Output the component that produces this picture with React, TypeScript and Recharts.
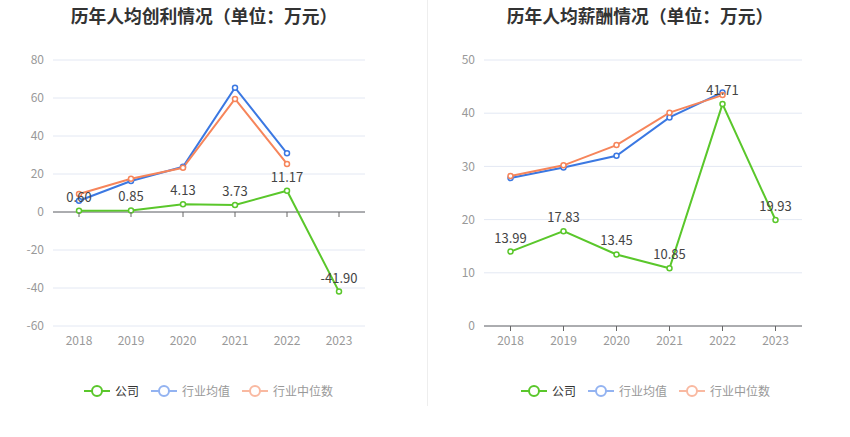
import React from "react";
import { LineChart, Line, XAxis, YAxis, CartesianGrid, ReferenceLine, LabelList } from "recharts";

const years = ["2018", "2019", "2020", "2021", "2022", "2023"];
const profitCompany = [0.6, 0.85, 4.13, 3.73, 11.17, -41.9];
const profitAvg: (number | null)[] = [5.9, 16.3, 23.8, 65.4, 30.9, null];
const profitMedian: (number | null)[] = [9.5, 17.5, 23.3, 59.5, 25.3, null];
const salaryCompany = [13.99, 17.83, 13.45, 10.85, 41.71, 19.93];
const salaryAvg: (number | null)[] = [27.8, 29.8, 32.0, 39.2, 43.9, null];
const salaryMedian: (number | null)[] = [28.2, 30.2, 34.0, 40.1, 43.4, null];
const profitTicks = [-60, -40, -20, 0, 20, 40, 60, 80];
const salaryTicks = [0, 10, 20, 30, 40, 50];
const legendNames = ["公司", "行业均值", "行业中位数"];

const profitData = years.map((y, i) => ({ year: y, company: profitCompany[i], avg: profitAvg[i], median: profitMedian[i] }));
const salaryData = years.map((y, i) => ({ year: y, company: salaryCompany[i], avg: salaryAvg[i], median: salaryMedian[i] }));

const GREEN = "#5ac72b";
const BLUE = "#3b78e2";
const ORANGE = "#f6855b";
const FONT = "'Noto Sans CJK SC', 'Noto Sans', sans-serif";

const PLOT_TOP = 60;
const PLOT_BOTTOM = 326;

const fmt = (v: any) => (typeof v === "number" ? v.toFixed(2) : v);

function LegendIcon({ color }: { color: string }) {
  return (
    <svg width={26} height={14} style={{ verticalAlign: "middle" }}>
      <line x1={0} y1={7} x2={26} y2={7} stroke={color} strokeWidth={2} />
      <circle cx={13} cy={7} r={5} fill="#fff" stroke={color} strokeWidth={2} />
    </svg>
  );
}

function Legend({ left }: { left: number }) {
  const items = [
    { name: legendNames[0], icon: GREEN, text: "#333" },
    { name: legendNames[1], icon: "#93b3f1", text: "#999" },
    { name: legendNames[2], icon: "#f9b9a1", text: "#999" },
  ];
  return (
    <div style={{ position: "absolute", left, top: 382, display: "flex", alignItems: "center", fontFamily: FONT, fontSize: 12 }}>
      {items.map((it, i) => (
        <div key={i} style={{ display: "flex", alignItems: "center", marginRight: 12 }}>
          <LegendIcon color={it.icon} />
          <span style={{ color: it.text, marginLeft: 5 }}>{it.name}</span>
        </div>
      ))}
    </div>
  );
}

function makeTick(tickLineY: number) {
  return (props: any) => {
    const { x, payload } = props;
    return (
      <g>
        <line x1={x} x2={x} y1={tickLineY} y2={tickLineY + 5} stroke="#666" />
        <text x={x} y={PLOT_BOTTOM + 19} textAnchor="middle" fill="#999" fontSize={12} fontFamily={FONT}>
          {payload.value}
        </text>
      </g>
    );
  };
}

function Chart({ data, ticks, domain, width, leftW, rightM, pad, zeroAxis }: any) {
  const zeroY = PLOT_TOP + ((domain[1] - 0) / (domain[1] - domain[0])) * (PLOT_BOTTOM - PLOT_TOP);
  return (
    <LineChart width={width} height={437} data={data} margin={{ top: PLOT_TOP, right: rightM, bottom: 437 - PLOT_BOTTOM - 30, left: 0 }}>
      <CartesianGrid vertical={false} stroke="#e3e8f3" />
      <XAxis
        dataKey="year"
        height={30}
        padding={{ left: pad, right: pad }}
        axisLine={zeroAxis ? false : { stroke: "#666" }}
        tickLine={false}
        tick={makeTick(zeroY)}
        interval={0}
      />
      <YAxis
        width={leftW}
        domain={domain}
        ticks={ticks}
        axisLine={false}
        tickLine={false}
        tickSize={0}
        tickMargin={9}
        tick={{ fill: "#999", fontSize: 12, fontFamily: FONT }}
        interval={0}
      />
      {zeroAxis && <ReferenceLine y={0} stroke="#666" />}
      <Line dataKey="avg" stroke={BLUE} strokeWidth={2} dot={{ r: 2.5, fill: "#fff", stroke: BLUE, strokeWidth: 1.5 }} isAnimationActive={false} connectNulls={false} />
      <Line dataKey="median" stroke={ORANGE} strokeWidth={2} dot={{ r: 2.5, fill: "#fff", stroke: ORANGE, strokeWidth: 1.5 }} isAnimationActive={false} connectNulls={false} />
      <Line dataKey="company" stroke={GREEN} strokeWidth={2} dot={{ r: 2.5, fill: "#fff", stroke: GREEN, strokeWidth: 1.5 }} isAnimationActive={false}>
        <LabelList dataKey="company" position="top" offset={9} fill="#444" fontSize={13} fontFamily={FONT} formatter={fmt} />
      </Line>
    </LineChart>
  );
}

export default function App() {
  return (
    <div style={{ position: "absolute", left: 0, top: 0, width: 850, height: 437, background: "#fff", overflow: "hidden" }}>
      <div style={{ position: "absolute", left: 0, top: 0 }}>
        <Chart data={profitData} ticks={profitTicks} domain={[-60, 80]} width={425} leftW={53} rightM={60} pad={26} zeroAxis={true} />
      </div>
      <div style={{ position: "absolute", left: 430, top: 0 }}>
        <Chart data={salaryData} ticks={salaryTicks} domain={[0, 50]} width={420} leftW={54} rightM={48} pad={26.5} zeroAxis={false} />
      </div>
      <div style={{ position: "absolute", left: 427, top: 0, width: 1, height: 406, background: "#eeeeee" }} />
      <div style={{ position: "absolute", left: 0, width: 408, top: 2, textAlign: "center", fontFamily: FONT, fontSize: 17.8, fontWeight: "bold", color: "#333" }}>
        历年人均创利情况（单位：万元）
      </div>
      <div style={{ position: "absolute", left: 436, width: 408, top: 2, textAlign: "center", fontFamily: FONT, fontSize: 17.8, fontWeight: "bold", color: "#333" }}>
        历年人均薪酬情况（单位：万元）
      </div>
      <Legend left={84} />
      <Legend left={521} />
    </div>
  );
}
